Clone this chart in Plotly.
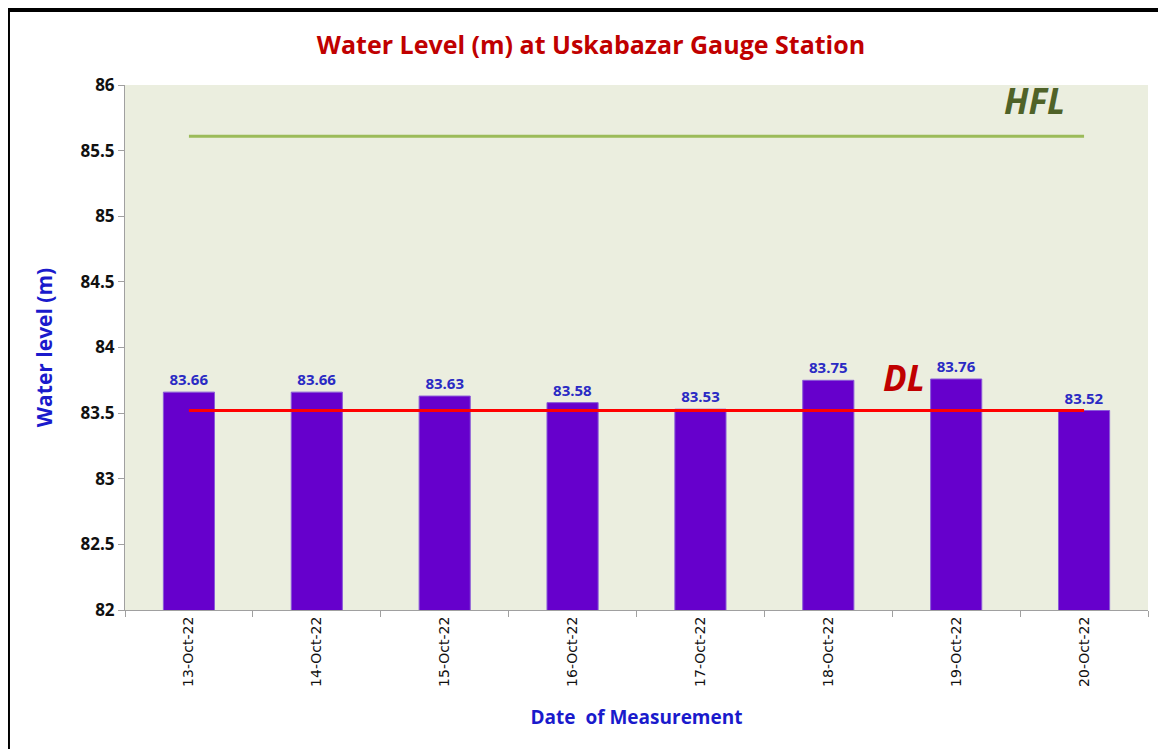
import plotly.graph_objects as go

# data
dates = ["13-Oct-22", "14-Oct-22", "15-Oct-22", "16-Oct-22",
         "17-Oct-22", "18-Oct-22", "19-Oct-22", "20-Oct-22"]
water_level = [83.66, 83.66, 83.63, 83.58, 83.53, 83.75, 83.76, 83.52]
hfl_level = 85.61
dl_level = 83.52
y_ticks = [82, 82.5, 83, 83.5, 84, 84.5, 85, 85.5, 86]

fig = go.Figure()

# bars
fig.add_trace(go.Bar(
    x=dates,
    y=water_level,
    base=0,
    marker=dict(color="#6600CC", line=dict(color="#8A5AD8", width=1)),
    width=0.4,
    text=[f"{v:.2f}" for v in water_level],
    textposition="outside",
    textfont=dict(family="Open Sans", size=15, color="#2A2AC4", weight="bold"),
    cliponaxis=False,
    showlegend=False,
))

# HFL and DL lines
fig.add_trace(go.Scatter(
    x=[dates[0], dates[-1]], y=[hfl_level, hfl_level],
    mode="lines", line=dict(color="#9BBB59", width=3), showlegend=False,
))
fig.add_trace(go.Scatter(
    x=[dates[0], dates[-1]], y=[dl_level, dl_level],
    mode="lines", line=dict(color="#FF0000", width=3), showlegend=False,
))

fig.add_annotation(x=0.921, xref="paper", y=85.88, yref="y", text="<b><i>HFL</i></b>",
                   showarrow=False, font=dict(family="Open Sans", size=35, color="#4F6228"))
fig.add_annotation(x=0.784, xref="paper", y=83.77, yref="y", text="<b><i>DL</i></b>",
                   showarrow=False, font=dict(family="Open Sans", size=35, color="#C00000"))

# outer frame
fig.add_shape(type="rect", xref="paper", yref="paper",
              x0=-0.1144, x1=1.2, y0=-0.5, y1=1.1429,
              line=dict(color="black", width=4), layer="below")

# page body has an 8px margin, so offsets are shifted by that
fig.update_layout(
    width=1166, height=749,
    margin=dict(l=117, r=26, t=77, b=147),
    paper_bgcolor="white",
    plot_bgcolor="#EBEEDF",
    title=dict(text="<b>Water Level (m) at Uskabazar Gauge Station</b>",
               x=0.5, xanchor="center", y=0.95, yanchor="middle",
               font=dict(family="Open Sans", size=25, color="#C00000")),
    bargap=0.6,
)

fig.update_xaxes(
    title=dict(text="<b>Date  of Measurement</b>", standoff=24,
               font=dict(family="Open Sans", size=19, color="#1A1ACC")),
    tickangle=-90,
    tickfont=dict(family="DejaVu Sans", size=14, color="#111111"),
    showline=True, linecolor="#A0A0A0", linewidth=1,
    ticks="outside", tickcolor="#A0A0A0", ticklen=6, tickson="boundaries",
    showgrid=False,
)
fig.update_yaxes(
    title=dict(text="<b>Water level (m)</b>", standoff=22,
               font=dict(family="Open Sans", size=21, color="#1A1ACC")),
    range=[82, 86],
    tickvals=y_ticks,
    ticktext=[f"<b>{t:g}</b>" for t in y_ticks],
    tickfont=dict(family="Open Sans", size=17, color="#111111"),
    showline=True, linecolor="#A0A0A0", linewidth=1,
    ticks="outside", tickcolor="#A0A0A0", ticklen=6,
    showgrid=False, zeroline=False,
)

fig.write_html("out.html")
